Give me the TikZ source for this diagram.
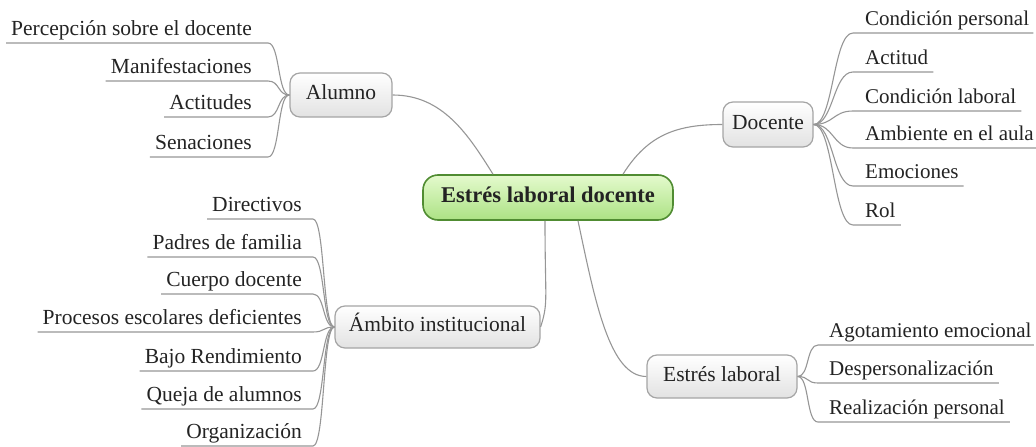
\documentclass[tikz,border=0pt]{standalone}
\usepackage{fontspec}
\setmainfont{Liberation Serif}
\usetikzlibrary{calc}
\definecolor{linegray}{RGB}{150,150,150}
\definecolor{txt}{RGB}{35,35,35}
\definecolor{cborder}{RGB}{80,140,50}
\definecolor{ctop}{RGB}{228,250,205}
\definecolor{cbot}{RGB}{172,226,132}
\definecolor{tborder}{RGB}{165,165,165}
\definecolor{tbot}{RGB}{226,226,226}
\begin{document}
\begin{tikzpicture}[x=1pt,y=-1pt,
  font=\fontsize{21.5}{25}\selectfont, text=txt,
  conn/.style={draw=linegray, line width=1.1pt},
  central/.style={rounded corners=15pt, draw=cborder, line width=1.6pt, top color=ctop, bottom color=cbot,
    minimum width=250pt, minimum height=45pt, inner sep=0pt, text height=14pt, text depth=5pt,
    font=\fontsize{22.5}{26}\selectfont\bfseries},
  topic/.style={rounded corners=10pt, draw=tborder, line width=1.2pt, top color=white, bottom color=tbot,
    minimum height=44pt, inner sep=0pt, text height=14pt, text depth=5pt},
  leaf/.style={inner xsep=0pt, inner ysep=2pt, text height=14pt, text depth=5pt},
  rleaf/.style={leaf, font=\fontsize{21}{25}\selectfont},
]
\useasboundingbox (0,0) rectangle (1036,447);

% central and main topics
\node[central] (center) at (548,197.5) {Estrés laboral docente};
\node[topic, minimum width=102pt] (alumno) at (341,95) {Alumno};
\node[topic, minimum width=90pt, minimum height=45pt] (docente) at (768,124.5) {Docente};
\node[topic, minimum width=205pt, minimum height=42pt] (ambito) at (437.5,327) {Ámbito institucional};
\node[topic, minimum width=150pt, minimum height=43pt] (estres) at (722,376.5) {Estrés laboral};

\coordinate (c1) at ($(center.north)+(-55,0)$);
\coordinate (c2) at ($(center.north)+(75,0)$);
\coordinate (c3) at ($(center.south)+(-3,0)$);
\coordinate (c4) at ($(center.south)+(30,0)$);

\draw[conn] (alumno.east) .. controls +(50,0) and +(-25,-40) .. (c1);
\draw[conn] (docente.west) .. controls +(-45,0) and +(25,-40) .. (c2);
\draw[conn] (c3) .. controls +(0,80) and +(8,-25) .. (ambito.east);
\draw[conn] (c4) .. controls +(17,80) and +(-37,0) .. (estres.west);

% Alumno leaves
\node[leaf, anchor=south east] (a1) at (268,43) {\kern5pt Percepción sobre el docente\kern16pt};
\node[leaf, anchor=south east] (a2) at (268,81) {\kern5pt Manifestaciones\kern16pt};
\node[leaf, anchor=south east] (a3) at (268,117) {\kern5pt Actitudes\kern16pt};
\node[leaf, anchor=south east] (a4) at (268,157) {\kern5pt Senaciones\kern16pt};
\foreach \n in {a1,a2,a3,a4}
  \draw[conn] (alumno.west) .. controls +(-12,0) and +(12,0) .. (\n.south east) -- (\n.south west);

% Docente leaves
\node[rleaf, anchor=south west] (d1) at (853,33) {\kern12pt Condición personal\kern4pt};
\node[rleaf, anchor=south west] (d2) at (853,72) {\kern12pt Actitud\kern5pt};
\node[rleaf, anchor=south west] (d3) at (853,111) {\kern12pt Condición laboral\kern5pt};
\node[rleaf, anchor=south west] (d4) at (853,148) {\kern12pt Ambiente en el aula\kern2pt};
\node[rleaf, anchor=south west] (d5) at (853,186) {\kern12pt Emociones\kern5pt};
\node[rleaf, anchor=south west] (d6) at (853,225) {\kern12pt Rol\kern5pt};
\foreach \n in {d1,d2,d3,d4,d5,d6}
  \draw[conn] (docente.east) .. controls +(20,0) and +(-20,0) .. (\n.south west) -- (\n.south east);

% Ambito leaves
\node[leaf, anchor=south east] (b1) at (313,219) {\kern5pt Directivos\kern11pt};
\node[leaf, anchor=south east] (b2) at (313,257) {\kern5pt Padres de familia\kern11pt};
\node[leaf, anchor=south east] (b3) at (313,294) {\kern5pt Cuerpo docente\kern11pt};
\node[leaf, anchor=south east] (b4) at (313,332) {\kern5pt Procesos escolares deficientes\kern11pt};
\node[leaf, anchor=south east] (b5) at (313,371) {\kern5pt Bajo Rendimiento\kern11pt};
\node[leaf, anchor=south east] (b6) at (313,409) {\kern5pt Queja de alumnos\kern11pt};
\node[leaf, anchor=south east] (b7) at (313,446) {\kern5pt Organización\kern11pt};
\foreach \n in {b1,b2,b3,b4,b5,b6,b7}
  \draw[conn] (ambito.west) .. controls +(-12,0) and +(12,0) .. (\n.south east) -- (\n.south west);

% Estres laboral leaves
\node[rleaf, anchor=south west] (e1) at (818,345) {\kern11pt Agotamiento emocional\kern2pt};
\node[rleaf, anchor=south west] (e2) at (818,383) {\kern11pt Despersonalización\kern5pt};
\node[rleaf, anchor=south west] (e3) at (818,422) {\kern11pt Realización personal\kern5pt};
\foreach \n in {e1,e2,e3}
  \draw[conn] (estres.east) .. controls +(12,0) and +(-12,0) .. (\n.south west) -- (\n.south east);
\end{tikzpicture}
\end{document}
